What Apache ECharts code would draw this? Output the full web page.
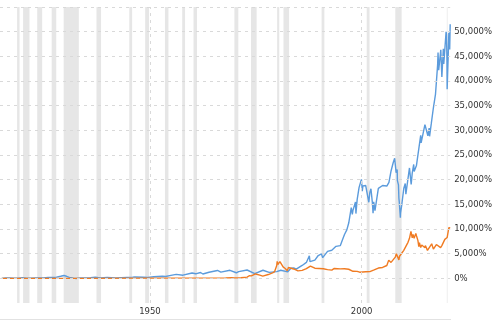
<!DOCTYPE html>
<html>
<head>
<meta charset="utf-8">
<script src="https://cdn.jsdelivr.net/npm/echarts@6/dist/echarts.min.js"></script>
<style>html,body{margin:0;padding:0;background:#fff;}#c{width:500px;height:321px;}</style>
</head>
<body>
<div id="c"></div>
<script>
// Dow (blue) percent change, [decimal year]
const dowDates = [1915.0,1915.9,1916.9,1917.9,1918.9,1919.85,1920.9,1921.6,1922.9,1923.8,1924.9,1925.9,1926.3,1926.9,1927.9,1928.9,1929.7,1929.85,1930.3,1930.95,1931.95,1932.55,1933.6,1933.95,1935.95,1937.1,1938.25,1939.9,1941.9,1942.3,1945.9,1946.4,1946.8,1948.5,1949.45,1950.9,1952.9,1953.7,1954.95,1956.2,1957.8,1959.95,1960.8,1961.95,1962.5,1963.95,1965.95,1966.05,1966.75,1968.9,1970.4,1970.95,1972.95,1974.75,1974.95,1976.7,1978.15,1979.95,1980.2,1980.9,1982.55,1983.3,1983.95,1984.55,1985.95,1986.95,1987.65,1987.8,1988.95,1989.75,1990.5,1990.8,1991.95,1992.95,1993.95,1994.1,1994.25,1994.95,1995.5,1995.95,1996.5,1996.95,1997.2,1997.55,1997.8,1997.95,1998.55,1998.65,1998.95,1999.4,1999.7,1999.95,2000.15,2000.3,2000.7,2000.95,2001.3,2001.4,2001.7,2001.95,2002.2,2002.55,2002.7,2002.85,2003.15,2003.95,2004.95,2005.95,2006.45,2006.95,2007.1,2007.45,2007.8,2008.15,2008.4,2008.45,2008.7,2008.8,2008.9,2008.95,2009.15,2009.2,2009.45,2009.95,2010.3,2010.45,2010.95,2011.3,2011.7,2011.95,2012.3,2012.4,2012.95,2013.95,2014.05,2014.95,2015.4,2015.65,2015.95,2016.05,2016.15,2016.45,2016.95,2017.45,2017.95,2018.05,2018.2,2018.7,2018.95,2019.3,2019.4,2019.95,2020.05,2020.15,2020.2,2020.45,2020.6,2020.8,2020.92];
const dowPct = [0,70,67,30,45,109,25,12,72,55,95,163,130,180,251,426,568,318,416,189,37,-26,85,75,153,228,74,163,93,63,239,272,195,222,193,312,412,363,609,803,637,1091,918,1182,884,1239,1600,1628,1258,1628,1128,1372,1689,967,981,1637,1202,1370,1277,1642,1318,2051,2107,1856,2612,3224,4570,3397,3704,4623,4953,4184,5458,5691,6486,6879,6277,6626,7893,8877,9819,11212,11449,14325,12956,13774,15484,13126,16007,18426,18035,20070,17669,18732,18586,18825,18733,19044,15423,17482,18153,15228,13220,15507,13744,18239,18818,18704,19461,21765,21423,23423,24340,21421,22072,19813,18935,16260,15390,15297,12290,13249,14718,18195,19214,17047,20212,22375,19046,21335,23083,21640,22889,28982,27442,31168,31498,28896,30471,28788,28877,31356,34572,37357,43267,45777,42186,46319,40825,46555,43435,49967,49472,44477,38351,45186,49777,46395,51500];

// Gold (orange) percent change
const goldDates = [1915.0,1933.9,1934.05,1967.9,1968.3,1969.3,1970.0,1971.5,1972.95,1973.45,1973.95,1974.95,1975.95,1976.65,1977.95,1978.95,1979.45,1979.7,1979.95,1980.05,1980.2,1980.7,1980.95,1981.45,1981.95,1982.45,1982.7,1983.1,1983.95,1984.95,1985.15,1985.95,1986.95,1987.9,1988.95,1989.95,1990.95,1991.95,1992.95,1993.55,1993.95,1994.95,1995.95,1996.1,1996.95,1997.95,1998.95,1999.55,1999.8,2000.95,2001.25,2001.95,2002.95,2003.95,2004.95,2005.95,2006.4,2006.95,2007.95,2008.2,2008.8,2008.95,2009.15,2009.95,2010.95,2011.3,2011.65,2011.95,2012.15,2012.4,2012.8,2012.95,2013.3,2013.5,2013.65,2013.95,2014.2,2014.95,2015.05,2015.55,2015.95,2016.55,2016.95,2017.65,2017.95,2018.05,2018.65,2018.95,2019.4,2019.65,2019.95,2020.2,2020.6,2020.92];
const goldPct = [0,0,84,84,105,116,89,126,237,532,489,884,637,447,768,1089,1374,1989,2595,3453,2811,3405,3005,2321,2005,1558,2205,2479,1900,1521,1479,1621,1953,2489,2058,2005,1932,1758,1653,2005,1953,1916,1937,2032,1842,1426,1416,1247,1479,1332,1258,1358,1705,2084,2205,2600,3689,3226,4289,4995,3742,4474,4868,5668,7295,8110,9531,8189,8900,8110,9111,8637,7637,6400,7242,6237,6742,6211,6637,5663,5479,7005,5926,6847,6742,6979,6216,6637,6637,7900,7874,8268,10268,10200];

// Recession periods [start, end]
const recessions = [[1918.62,1919.2],[1920.04,1921.54],[1923.37,1924.54],[1926.79,1927.87],[1929.62,1933.2],[1937.37,1938.45],[1945.12,1945.79],[1948.87,1949.79],[1953.54,1954.37],[1957.62,1958.29],[1960.29,1961.12],[1969.95,1970.87],[1973.87,1975.2],[1980.04,1980.54],[1981.54,1982.87],[1990.54,1991.2],[2001.2,2001.87],[2007.95,2009.45],[2020.12,2020.29]];

const yTicks = [0,5000,10000,15000,20000,25000,30000,35000,40000,45000,50000,55000];
const xLabelYears = [1950, 2000];

const fmt = v => v.toLocaleString('en-US') + '%';
const pair = (a, b) => a.map((d, i) => [d, b[i]]);

const chart = echarts.init(document.getElementById('c'), null, {renderer: 'canvas'});
chart.setOption({
  animation: false,
  grid: {left: 0, right: 49.8, top: 7, bottom: 18},
  xAxis: {
    type: 'value', min: 1914.58, max: 2020.92,
    axisLine: {show: false}, axisTick: {show: false}, axisLabel: {show: false}, splitLine: {show: false}
  },
  yAxis: {
    type: 'value', position: 'right', min: -5000, max: 55000, interval: 5000,
    axisLine: {show: false}, axisTick: {show: false}, splitLine: {show: false},
    axisLabel: {
      margin: 4, color: '#333', fontSize: 8.5, fontFamily: 'DejaVu Sans',
      formatter: v => (v < 0 || v > 50000) ? '' : fmt(v)
    }
  },
  graphic: [{type: 'rect', left: 0, top: 319, shape: {width: 451, height: 1}, style: {fill: '#e2e2e2'}, silent: true}],
  series: [
    {
      type: 'line', data: [], z: 1, silent: true,
      markArea: {
        silent: true,
        itemStyle: {color: '#e6e6e6'},
        data: recessions.map(r => [{xAxis: r[0]}, {xAxis: r[1]}])
      },
      markLine: {
        silent: true, symbol: 'none',
        lineStyle: {color: '#d9d9d9', type: [3, 4], width: 1},
        label: {show: false},
        data: yTicks.map(v => ({yAxis: v})).concat(xLabelYears.map(y => ({
          xAxis: y,
          label: {show: true, position: 'start', distance: 4, formatter: String(y), color: '#333', fontSize: 8.5, fontFamily: 'DejaVu Sans'}
        })))
      }
    },
    {
      type: 'line', z: 3, showSymbol: false, silent: true,
      lineStyle: {color: '#5b9bdc', width: 1.4},
      data: pair(dowDates, dowPct)
    },
    {
      type: 'line', z: 4, showSymbol: false, silent: true,
      lineStyle: {color: '#f07b22', width: 1.4},
      data: pair(goldDates, goldPct)
    }
  ]
});
</script>
</body>
</html>
